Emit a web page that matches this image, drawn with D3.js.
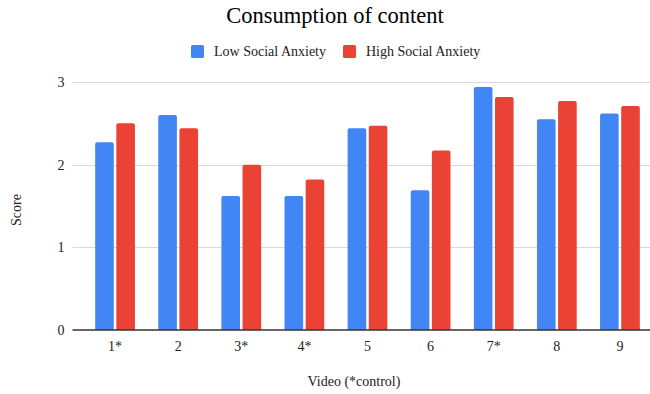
<!DOCTYPE html>
<html>
<head>
<meta charset="utf-8">
<script src="https://cdn.jsdelivr.net/npm/d3@7"></script>
<style>
  html, body { margin: 0; padding: 0; background: #fff; }
  svg { display: block; }
  svg text { font-family: "Liberation Serif", "Times New Roman", serif !important; }
</style>
</head>
<body>
<svg id="chart" width="650" height="394"></svg>
<script>
// Mean scores per video, split by social anxiety group
const categories = ["1*", "2", "3*", "4*", "5", "6", "7*", "8", "9"];
const seriesNames = ["Low Social Anxiety", "High Social Anxiety"];
const lowAnxiety  = [2.27, 2.60, 1.62, 1.62, 2.44, 1.69, 2.94, 2.55, 2.62];
const highAnxiety = [2.50, 2.44, 2.00, 1.82, 2.47, 2.17, 2.82, 2.77, 2.71];
const yTicks = [0, 1, 2, 3];
const colors = ["#4285F4", "#EA4335"];

const svg = d3.select("#chart");

const gridLeft = 72.5, gridRight = 650;
const y = d3.scaleLinear().domain([0, 3]).range([330, 82]);

const x0 = d3.scaleBand()
  .domain(categories)
  .range([83.5, 651.5])
  .paddingInner(0.37)
  .paddingOuter(0.185);

const x1 = d3.scaleBand()
  .domain(seriesNames)
  .range([0, x0.bandwidth()])
  .paddingInner(0.12);

const rows = categories.map((c, i) => ({
  cat: c,
  values: [
    { name: seriesNames[0], v: lowAnxiety[i] },
    { name: seriesNames[1], v: highAnxiety[i] }
  ]
}));

// Horizontal gridlines and y labels
const yAxis = d3.axisLeft(y).tickValues(yTicks).tickSize(0).tickPadding(0).tickFormat(d3.format("d"));
const yg = svg.append("g").attr("transform", `translate(${gridLeft - 8},0)`).call(yAxis);
yg.select(".domain").remove();
yg.attr("font-family", null);
yg.selectAll("text").attr("font-size", 14).attr("fill", "#222");

svg.append("g").selectAll("line")
  .data(yTicks.filter(t => t !== 0))
  .join("line")
  .attr("x1", gridLeft).attr("x2", gridRight)
  .attr("y1", d => Math.round(y(d)) + 0.5).attr("y2", d => Math.round(y(d)) + 0.5)
  .attr("stroke", "#d9d9d9").attr("stroke-width", 1.2);

// Bars
const color = d3.scaleOrdinal().domain(seriesNames).range(colors);
const r = 2;
svg.append("g").selectAll("g")
  .data(rows)
  .join("g")
  .attr("transform", d => `translate(${x0(d.cat)},0)`)
  .selectAll("path")
  .data(d => d.values)
  .join("path")
  .attr("fill", d => color(d.name))
  .attr("d", d => {
    const bx = x1(d.name), bw = x1.bandwidth();
    const top = y(d.v), bottom = y(0);
    return `M${bx},${bottom}V${top + r}Q${bx},${top} ${bx + r},${top}H${bx + bw - r}Q${bx + bw},${top} ${bx + bw},${top + r}V${bottom}Z`;
  });

// Baseline
svg.append("line")
  .attr("x1", gridLeft).attr("x2", gridRight)
  .attr("y1", y(0)).attr("y2", y(0))
  .attr("stroke", "#333").attr("stroke-width", 1.3);

// Category labels
const xAxis = d3.axisBottom(x0).tickSize(0).tickPadding(0);
const xg = svg.append("g").attr("transform", "translate(0,341)").call(xAxis);
xg.select(".domain").remove();
xg.attr("font-family", null);
xg.selectAll("text").attr("font-size", 14).attr("fill", "#222").attr("dy", "0.71em");

// Title
svg.append("text")
  .attr("x", 335).attr("y", 23)
  .attr("text-anchor", "middle")
  .attr("font-size", 22.5)
  .attr("fill", "#000")
  .text("Consumption of content");

// Legend
const legendX = [191, 343];
const legend = svg.append("g").selectAll("g")
  .data(seriesNames)
  .join("g")
  .attr("transform", (d, i) => `translate(${legendX[i]},45)`);
legend.append("rect")
  .attr("width", 13).attr("height", 13).attr("rx", 1.5)
  .attr("fill", d => color(d));
legend.append("text")
  .attr("x", 23).attr("y", 11)
  .attr("font-size", 14).attr("fill", "#222")
  .text(d => d);

// Axis titles
svg.append("text")
  .attr("x", 354).attr("y", 386)
  .attr("text-anchor", "middle")
  .attr("font-size", 14).attr("fill", "#222")
  .text("Video (*control)");

svg.append("text")
  .attr("transform", "translate(21,210) rotate(-90)")
  .attr("text-anchor", "middle")
  .attr("font-size", 14).attr("fill", "#222")
  .text("Score");
</script>
</body>
</html>
